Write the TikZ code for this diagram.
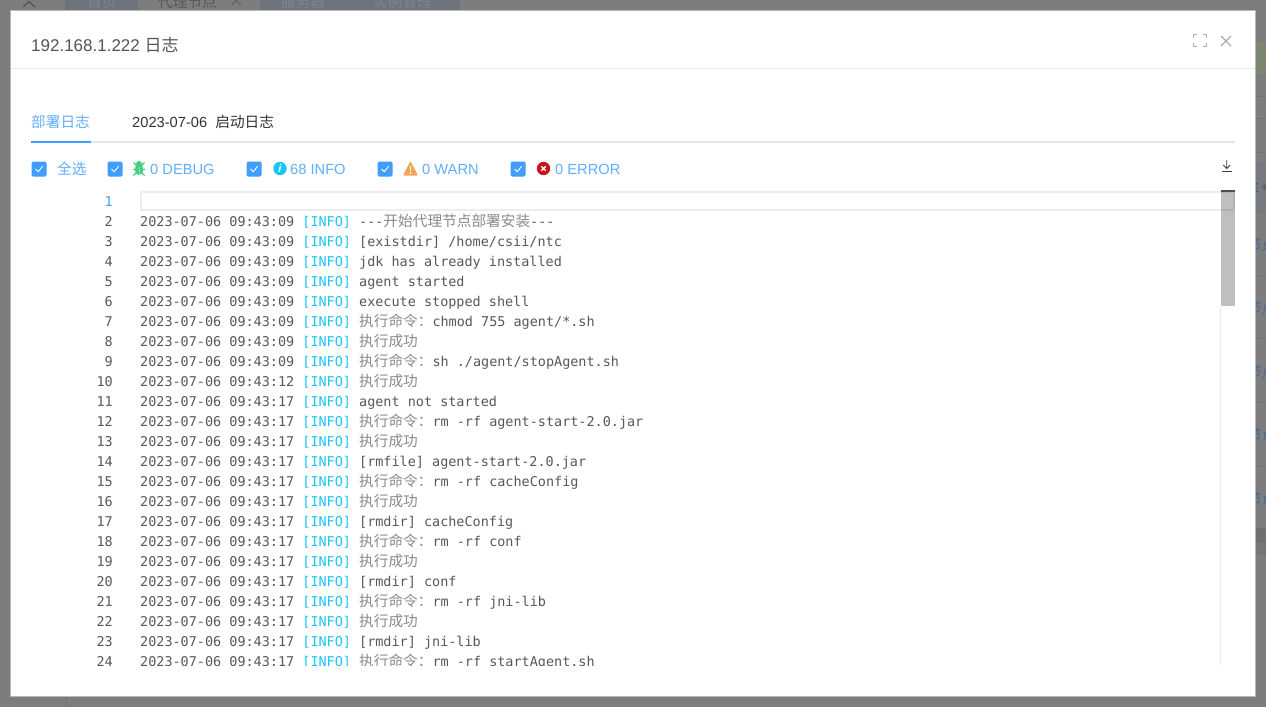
\documentclass[tikz,border=0pt]{standalone}
\usepackage{fontspec}
\setmainfont{Liberation Sans}
\newfontfamily\cjk{Noto Sans CJK SC}
\newfontfamily\monof{DejaVu Sans Mono}
\definecolor{dim}{HTML}{7D7D7D}
\definecolor{dimdark}{HTML}{6E727A}
\definecolor{dimtext}{HTML}{80858E}
\definecolor{dimline}{HTML}{727272}
\definecolor{dimblue}{HTML}{3F6C9E}
\definecolor{dimgreen}{HTML}{7B8570}
\definecolor{dimband}{HTML}{777A80}
\definecolor{dimdeep}{HTML}{707070}
\definecolor{blueui}{HTML}{409EFF}
\definecolor{bluesoft}{HTML}{63AEFF}
\definecolor{tabline}{HTML}{E4E7ED}
\definecolor{titlec}{HTML}{555555}
\definecolor{codec}{HTML}{585858}
\definecolor{cnc}{HTML}{8A8A8A}
\definecolor{infoc}{HTML}{19C5F5}
\definecolor{bugc}{HTML}{45CF80}
\definecolor{warnc}{HTML}{F2A65A}
\definecolor{errc}{HTML}{C8161D}
\definecolor{iconc}{HTML}{A9ADB5}
\tikzset{
 lab/.style={anchor=base west,inner sep=0pt,font=\fontsize{14.67}{15}\selectfont,text=bluesoft},
 lnum/.style={anchor=base east,inner sep=0pt,font=\monof\fontsize{13.47}{14}\selectfont,text=codec},
 ltxt/.style={anchor=base west,inner sep=0pt,font=\monof\fontsize{13.47}{14}\selectfont,text=codec},
 cb/.style={fill=blueui,rounded corners=1.5pt,draw=none,minimum size=15pt,inner sep=0pt,shape=rectangle},
 tabtxt/.style={anchor=base west,inner sep=0pt,font=\fontsize{14.67}{15}\selectfont},
 bgtxt/.style={anchor=base west,inner sep=0pt,font=\cjk\fontsize{14.67}{15}\selectfont,text=dimtext},
}
\newcommand{\cn}[1]{{\cjk\fontsize{14.67}{15}\selectfont\color{cnc}#1}}
\newcommand{\logline}[3]{%
 \node[lnum] (n#1) at (113,{#1*20+186}) {#1};
 \node[ltxt] (t#1) at (140,{#1*20+186}) {2023-07-06 09:43:#2 \textcolor{infoc}{[INFO]} #3};
}
\newcommand{\tick}[2]{\draw[white,line width=.9pt] (#1-3.5,#2) -- (#1-0.8,#2+2.8) -- (#1+3.8,#2-3);}
\begin{document}
\begin{tikzpicture}[x=1pt,y=-1pt]
\useasboundingbox (0,0) rectangle (1266,707);
\fill[dim] (0,0) rectangle (1266,707);
% dimmed page behind the dialog
\fill[dimdark] (65,0) rectangle (138,11);
\fill[dimdark] (260,0) rectangle (460,11);
\begin{scope}
\clip (0,0) rectangle (1266,11);
\draw[black!70,line width=1pt] (23,7) -- (29,1.5) -- (35,7);
\node[bgtxt] (bg1) at (87,7) {首页};
\node[bgtxt,text=black!65] (bg2) at (158,7) {代理节点};
\node[bgtxt,text=black!65] (bg3) at (229,6) {×};
\node[bgtxt] (bg4) at (281,7) {服务器};
\node[bgtxt] (bg5) at (373,7) {实例管理};
\end{scope}
\draw[dimline] (66,696) -- (66,707);
\fill[dimgreen] (1255,42) rectangle (1266,75);
\fill[dimband] (1255,162) rectangle (1266,213);
\fill[dimdeep] (1255,528) rectangle (1266,542);
\fill[dimline!60!dim] (1255,542) rectangle (1266,555);
\foreach \yy in {96,118,152,276,338,402,466} \draw[dimline] (1255,\yy) -- (1266,\yy);
\foreach \yy/\kk in {250/a,313/b,377/c,440/d,504/e} \node[anchor=base west,inner sep=0pt,text=dimblue,font=\cjk\fontsize{14.67}{15}\selectfont] (bgr\kk) at (1247,\yy) {节点};
\node[anchor=base west,inner sep=0pt,text=black!65,font=\bfseries\fontsize{13}{13}\selectfont] (bgre) at (1250,192) {E};
\fill[black!60] (1266,187) circle (3.5);
% dialog
\draw[white!45!dim,line width=1pt] (10.5,10.5) rectangle (1255.5,696.5);
\fill[white] (11,11) rectangle (1255,696);
\node[anchor=base west,inner sep=0pt,text=titlec,font=\fontsize{17}{17}\selectfont] (title) at (31,51) {192.168.1.222 {\cjk 日志}};
\draw[tabline] (11,68.5) -- (1255,68.5);
% header icons
\draw[iconc,line width=1.2pt] (1193.5,38) -- (1193.5,34.5) -- (1197,34.5) (1203,34.5) -- (1206.5,34.5) -- (1206.5,38) (1206.5,43) -- (1206.5,46.5) -- (1203,46.5) (1197,46.5) -- (1193.5,46.5) -- (1193.5,43);
\draw[iconc,line width=1.1pt] (1221,36) -- (1231,46) (1231,36) -- (1221,46);
% tabs
\draw[tabline,line width=2pt] (31,141.5) -- (1235,141.5);
\draw[blueui,line width=2pt] (31,141.5) -- (91,141.5);
\node[tabtxt,text=bluesoft,font=\cjk\fontsize{14.67}{15}\selectfont] (tab1) at (31,127) {部署日志};
\node[tabtxt,text=black!80] (tab2) at (132,127) {2023-07-06\ \ {\cjk 启动日志}};
% filters
\node[cb] (c0) at (39,169) {}; \tick{39}{169}
\node[cb] (c1) at (115,169) {}; \tick{115}{169}
\node[cb] (c2) at (254,169) {}; \tick{254}{169}
\node[cb] (c3) at (385,169) {}; \tick{385}{169}
\node[cb] (c4) at (518,169) {}; \tick{518}{169}
\node[lab,font=\cjk\fontsize{14.67}{15}\selectfont] (all) at (57,174) {全选};
% bug
\fill[bugc] (139,169.5) ellipse (4.4 and 5.6);
\fill[bugc] (139,164) circle (3);
\draw[bugc,line width=1.4pt] (133.5,162.5) -- (136.5,165.5) (144.5,162.5) -- (141.5,165.5) (133,169.5) -- (145,169.5) (133.5,175.5) -- (136.5,172.5) (144.5,175.5) -- (141.5,172.5);
\draw[white!35!bugc,line width=.5pt] (139,166.5) -- (139,174.5);
\node[lab] (debug) at (150,174) {0 DEBUG};
% info
\fill[infoc] (280,168.5) circle (6.7);
\node[inner sep=0pt,text=white,font=\bfseries\itshape\fontsize{11}{11}\selectfont] (infoi) at (280,168.5) {i};
\node[lab] (info) at (290,174) {68 INFO};
% warn
\fill[warnc,rounded corners=1pt] (410.5,161) -- (418,175.5) -- (403,175.5) -- cycle;
\fill[white] (409.8,165.5) rectangle (411.2,171);
\fill[white] (410.5,173) circle (.9);
\node[lab] (warn) at (422,174) {0 WARN};
% error
\fill[errc] (543.5,168.5) circle (6.7);
\draw[white,line width=1.4pt] (541.3,166.3) -- (545.7,170.7) (545.7,166.3) -- (541.3,170.7);
\node[lab] (err) at (555,174) {0 ERROR};
% download
\draw[black!75,line width=1pt] (1221.5,171.5) -- (1232,171.5);
\draw[black!75,line width=.9pt] (1226.7,160) -- (1226.7,168.5) (1223.3,165) -- (1226.7,168.5) -- (1230.2,165);
% editor
\draw[black!7,line width=2pt] (141,192) rectangle (1234,210);
\begin{scope}
\clip (90,190) rectangle (1221,665);
\node[lnum,text=blueui,font=\monof\fontsize{13.47}{14}\selectfont] (n1) at (113,206) {1};
\logline{2}{09}{---\cn{开始代理节点部署安装}---}
\logline{3}{09}{[existdir] /home/csii/ntc}
\logline{4}{09}{jdk has already installed}
\logline{5}{09}{agent started}
\logline{6}{09}{execute stopped shell}
\logline{7}{09}{\cn{执行命令：}chmod 755 agent/*.sh}
\logline{8}{09}{\cn{执行成功}}
\logline{9}{09}{\cn{执行命令：}sh ./agent/stopAgent.sh}
\logline{10}{12}{\cn{执行成功}}
\logline{11}{17}{agent not started}
\logline{12}{17}{\cn{执行命令：}rm -rf agent-start-2.0.jar}
\logline{13}{17}{\cn{执行成功}}
\logline{14}{17}{[rmfile] agent-start-2.0.jar}
\logline{15}{17}{\cn{执行命令：}rm -rf cacheConfig}
\logline{16}{17}{\cn{执行成功}}
\logline{17}{17}{[rmdir] cacheConfig}
\logline{18}{17}{\cn{执行命令：}rm -rf conf}
\logline{19}{17}{\cn{执行成功}}
\logline{20}{17}{[rmdir] conf}
\logline{21}{17}{\cn{执行命令：}rm -rf jni-lib}
\logline{22}{17}{\cn{执行成功}}
\logline{23}{17}{[rmdir] jni-lib}
\logline{24}{17}{\cn{执行命令：}rm -rf startAgent.sh}
\end{scope}
% scrollbar
\draw[black!8] (1220.5,306) -- (1220.5,665);
\fill[black,opacity=.25] (1221,190) rectangle (1235,306);
\fill[black!70] (1221,190) rectangle (1235,192);
\end{tikzpicture}
\end{document}
